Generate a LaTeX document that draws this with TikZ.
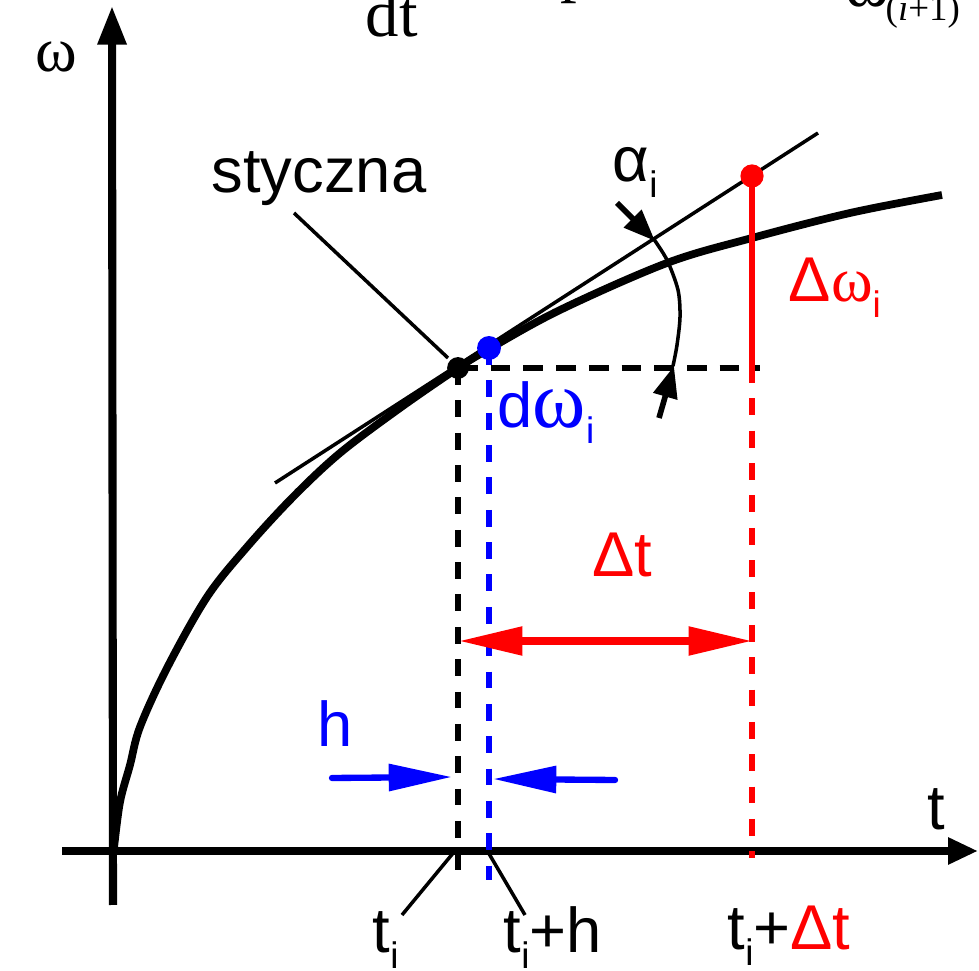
\documentclass[tikz,border=0pt]{standalone}
\usepackage{fontspec}
\setmainfont{Liberation Serif}
\setsansfont{Liberation Sans}
\usetikzlibrary{arrows.meta}
\newcommand\lblfont{\fontsize{18pt}{20pt}\selectfont\sffamily}
\newcommand\sbi{\raisebox{-0.24em}{\fontsize{10.5pt}{11pt}\selectfont\sffamily i}}
\newcommand\grk[1]{{\rmfamily #1}}
\newcommand\bigw{{\fontsize{23pt}{24pt}\selectfont\rmfamily ω}}
\tikzset{
  yaxis/.style={line width=2.3pt, -{Triangle[length=11pt,width=7.8pt]}},
  xaxis/.style={line width=2.1pt, -{Triangle[length=8.5pt,width=7.2pt]}},
  curveline/.style={line width=2.2pt, line join=round},
  tanline/.style={line width=1pt},
  leader/.style={line width=1pt},
  dashv/.style={line width=1.7pt, dash pattern=on 4.8pt off 4.4pt},
  dashh/.style={line width=1.7pt, dash pattern=on 5.6pt off 3.7pt},
  dotnode/.style={circle, inner sep=0pt, minimum size=6.2pt},
  lab/.style={inner sep=0pt, anchor=base west, font=\lblfont},
  bigarrow/.style={line width=2pt, {Triangle[length=18pt,width=7.8pt]}-{Triangle[length=18pt,width=7.8pt]}},
  harrow/.style={line width=1.8pt, line cap=round, -{Triangle[length=18pt,width=7.4pt]}},
  angarrow/.style={line width=1.6pt, -{Triangle[length=9pt,width=6.8pt]}},
}
\begin{document}
\begin{tikzpicture}[x=0.01cm,y=-0.01cm]
\useasboundingbox (0,0) rectangle (979,971);
\clip (0,0) rectangle (979,971);

% key points
\coordinate (O) at (113,851);
\coordinate (Ytop) at (112,6);
\coordinate (Ybot) at (113,905);
\coordinate (Xl) at (62,851);
\coordinate (Xr) at (978,851);
\coordinate (T1) at (275,483);
\coordinate (T2) at (818,133);

% axes
\draw[yaxis] (Ybot) -- (Ytop);
\draw[xaxis] (Xl) -- (Xr);

% tangent
\draw[tanline] (T1) -- (T2);

% main curve
\draw[curveline] plot[smooth, tension=0.55] coordinates {
  (114,848) (120,802) (130,765) (140,727) (167,668) (207,597) (247,547)
  (293,497) (340,453) (400,408) (458,368) (489,349) (560,310) (667,263)
  (752,238) (850,213) (942,195)};

% dots
\node[dotnode, fill=black] (P) at (458,368) {};
\node[dotnode, fill=blue, minimum size=6.8pt] (B) at (489,348) {};
\node[dotnode, fill=red, minimum size=6.6pt] (R) at (752,176) {};

% helper coordinates
\coordinate (Hend) at (760,368);
\coordinate (Rmid) at (752,366);
\coordinate (Rbot) at (752,858);
\coordinate (Pbot) at (458,874);
\coordinate (Bbot) at (489,880);

% dashed lines
\draw[dashh] (P.center) -- (Hend);
\draw[dashv] (P.center) -- (Pbot);
\draw[dashv, blue] (B.center) -- (Bbot);
\draw[line width=1.6pt, red] (R.center) -- (Rmid);
\draw[dashv, red] (Rmid) -- (Rbot);

% delta t arrow
\coordinate (DtL) at (459,641);
\coordinate (DtR) at (752,641);
\draw[bigarrow, red] (DtL) -- (DtR);

% h arrows
\coordinate (HlA) at (332,778);
\coordinate (HlB) at (452,777);
\coordinate (HrA) at (615,780);
\coordinate (HrB) at (493,779);
\draw[harrow, blue] (HlA) -- (HlB);
\draw[harrow, blue] (HrA) -- (HrB);

% angle alpha
\coordinate (A1) at (617,203);
\coordinate (A2) at (655,241);
\coordinate (A3) at (674,366);
\coordinate (A4) at (659,418);
\draw[line width=1pt] plot[smooth] coordinates {(653,238) (667,260) (678,290) (680,317) (677,345) (673,366)};
\draw[angarrow] (A1) -- (A2);
\draw[angarrow] (A4) -- (A3);

% leaders
\coordinate (L1) at (294,213);
\coordinate (L2) at (448,358);
\draw[leader] (L1) -- (L2);
\coordinate (Ti1) at (454,852);
\coordinate (Ti2) at (402,915);
\draw[leader] (Ti1) -- (Ti2);
\coordinate (Th1) at (488,852);
\coordinate (Th2) at (525,915);
\draw[leader] (Th1) -- (Th2);

% labels
\node[lab, anchor=base] (sty) at (319,193) {styczna};
\node[lab] (alpha) at (612,182) {α\sbi};
\node[lab, red] (dom) at (788,302) {Δ\grk{ω}\sbi};
\node[lab, blue] (dw) at (497,428) {d\bigw\sbi};
\node[lab, red] (dtl) at (592,577) {Δt};
\node[lab, blue] (hl) at (317,747) {h};
\node[lab] (ti) at (372,953) {t\sbi};
\node[lab] (tih) at (503,953) {t\sbi+h};
\node[lab] (tidt) at (727,950) {t\sbi+\textcolor{red}{Δt}};
\node[lab] (tax) at (927,830) {t};
\node[lab, font=\fontsize{18pt}{20pt}\selectfont\rmfamily] (wax) at (35,72) {ω};

% top (cut) text
\node[lab, font=\fontsize{19pt}{20pt}\selectfont\rmfamily] (dtop) at (365,37) {dt};
\node[lab, font=\fontsize{19pt}{20pt}\selectfont\rmfamily] (ptop) at (560,-10) {p};
\node[lab, font=\fontsize{19pt}{20pt}\selectfont\rmfamily] (wtop) at (845,7) {ω};
\node[lab, font=\fontsize{10.5pt}{11pt}\selectfont\rmfamily] (wsub) at (885,21) {(\textit{i}+1)};
\end{tikzpicture}
\end{document}
